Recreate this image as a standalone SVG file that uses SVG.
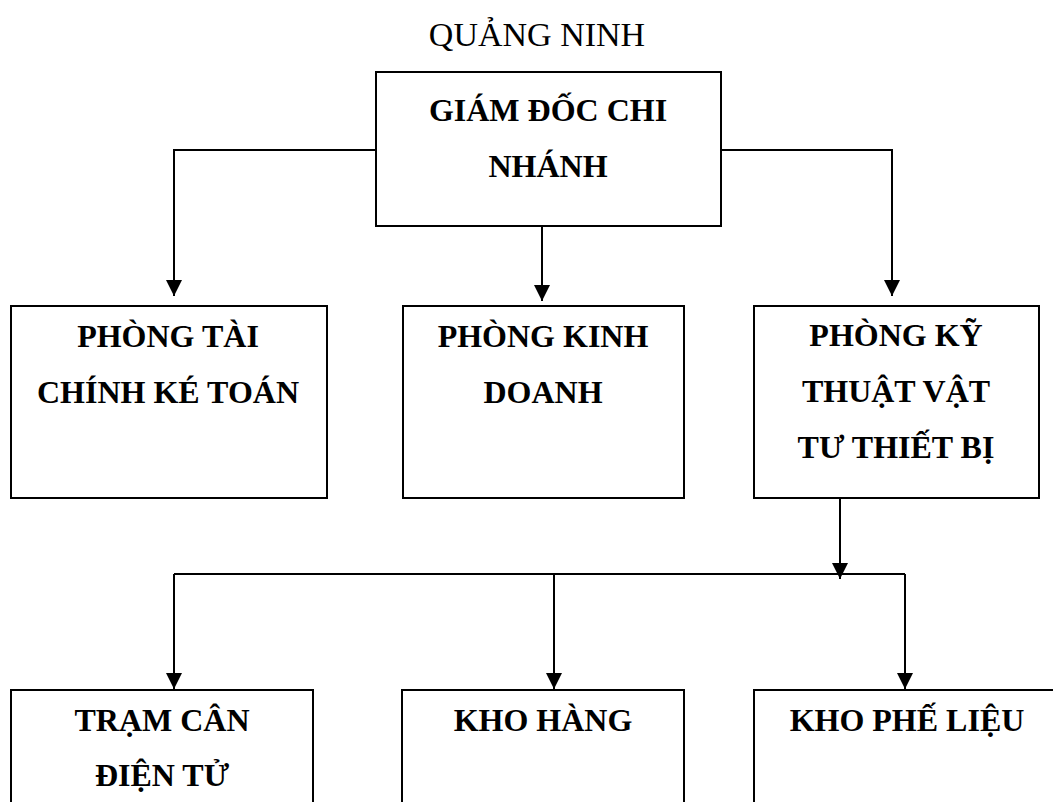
<svg xmlns="http://www.w3.org/2000/svg" width="1053" height="802" viewBox="0 0 1053 802">
<style>
.box{fill:#fff;stroke:#000;stroke-width:2}
.lbl{font-family:"Liberation Serif","Times New Roman",serif;font-weight:bold;font-size:32px;text-anchor:middle;fill:#000}
.title{font-family:"Liberation Serif","Times New Roman",serif;font-size:34px;text-anchor:middle;fill:#000}
.ln{fill:none;stroke:#000;stroke-width:2}
.arr{marker-end:url(#arr)}
</style>
<defs>
<marker id="arr" markerUnits="userSpaceOnUse" markerWidth="16" markerHeight="16" viewBox="0 0 16 16" refX="16" refY="8" orient="auto">
<path d="M0,0 L16,8 L0,16 Z" fill="#000"/>
</marker>
</defs>
<rect width="1053" height="802" fill="#fff"/>
<text class="title" x="537" y="46">QUẢNG NINH</text>
<g id="connectors">
<polyline class="ln arr" points="376,150 174,150 174,296"/>
<polyline class="ln arr" points="721,150 892,150 892,296"/>
<line class="ln arr" x1="542" y1="226" x2="542" y2="301"/>
<line class="ln arr" x1="840" y1="498" x2="840" y2="579"/>
<line class="ln" x1="174" y1="574" x2="905" y2="574"/>
<line class="ln arr" x1="174" y1="574" x2="174" y2="689"/>
<line class="ln arr" x1="554" y1="574" x2="554" y2="689"/>
<line class="ln arr" x1="905" y1="574" x2="905" y2="689"/>
</g>
<g id="giam-doc">
<rect class="box" x="376" y="72" width="345" height="154"/>
<text class="lbl" x="548" y="121">GIÁM ĐỐC CHI</text>
<text class="lbl" x="548" y="177">NHÁNH</text>
</g>
<g id="phong-tai-chinh">
<rect class="box" x="11" y="306" width="316" height="192"/>
<text class="lbl" x="168" y="347">PHÒNG TÀI</text>
<text class="lbl" x="168" y="403">CHÍNH KÉ TOÁN</text>
</g>
<g id="phong-kinh-doanh">
<rect class="box" x="403" y="306" width="281" height="192"/>
<text class="lbl" x="543" y="347">PHÒNG KINH</text>
<text class="lbl" x="543" y="403">DOANH</text>
</g>
<g id="phong-ky-thuat">
<rect class="box" x="754" y="306" width="285" height="192"/>
<text class="lbl" x="896" y="346">PHÒNG KỸ</text>
<text class="lbl" x="896" y="402">THUẬT VẬT</text>
<text class="lbl" x="896" y="458">TƯ THIẾT BỊ</text>
</g>
<g id="tram-can">
<rect class="box" x="11" y="690" width="302" height="130"/>
<text class="lbl" x="162" y="731">TRẠM CÂN</text>
<text class="lbl" x="162" y="786">ĐIỆN TỬ</text>
</g>
<g id="kho-hang">
<rect class="box" x="402" y="690" width="282" height="130"/>
<text class="lbl" x="543" y="731">KHO HÀNG</text>
</g>
<g id="kho-phe-lieu">
<rect class="box" x="754" y="690" width="320" height="130"/>
<text class="lbl" x="907" y="731">KHO PHẾ LIỆU</text>
</g>
</svg>
